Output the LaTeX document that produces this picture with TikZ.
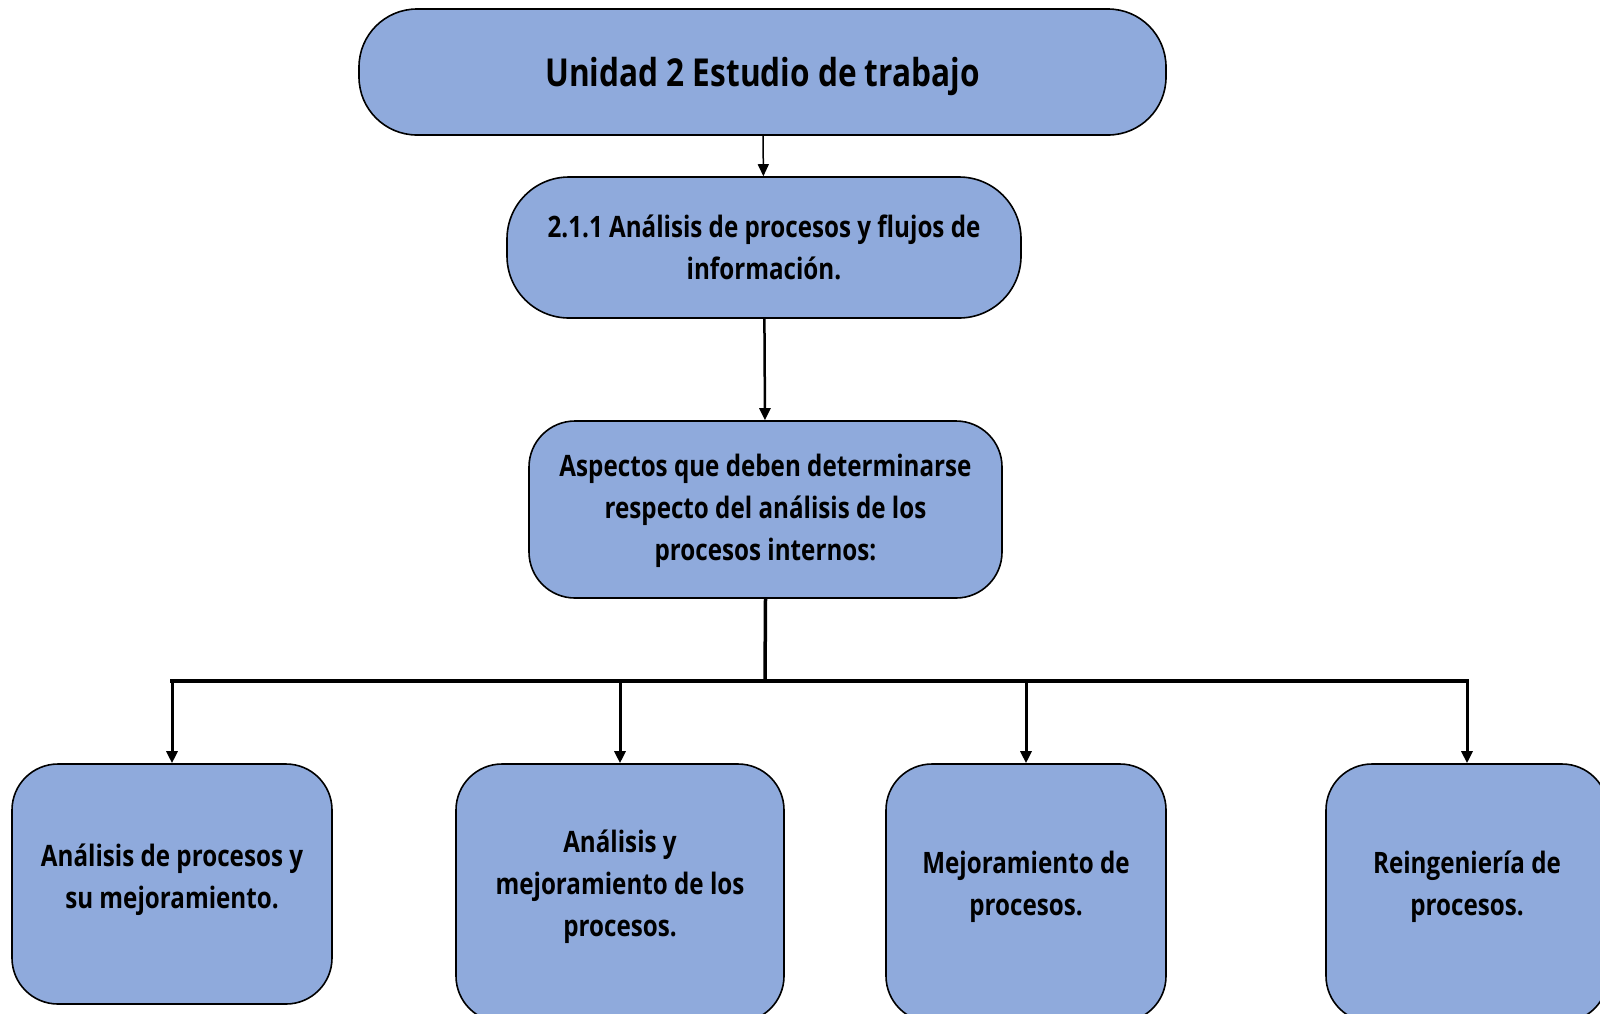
\documentclass[tikz,border=0pt]{standalone}
\usepackage{fontspec}
\setmainfont{Open Sans}[FakeStretch=0.82]
\usetikzlibrary{arrows.meta}
\definecolor{boxblue}{RGB}{143,170,220}
\tikzset{
  box/.style={draw=black, line width=1.6pt, fill=boxblue, inner sep=0pt},
  txt/.style={align=center, inner sep=0pt, font=\bfseries\fontsize{29.5}{42}\selectfont},
  conn/.style={draw=black, -{Triangle[length=12pt,width=11pt]}},
}
\begin{document}
\begin{tikzpicture}[x=1pt,y=-1pt]
\useasboundingbox (0,0) rectangle (1600,1013);
\clip (0,0) rectangle (1600,1013);
% boxes
\node[box, rounded corners=58pt, minimum width=807pt, minimum height=126pt] (top) at (762.5,72) {};
\node[box, rounded corners=62pt, minimum width=514pt, minimum height=141pt] (sec) at (764,247.5) {};
\node[box, rounded corners=46pt, minimum width=473pt, minimum height=177pt] (asp) at (765.5,509.5) {};
\node[box, rounded corners=46pt, minimum width=320pt, minimum height=240pt] (b1) at (172,884) {};
\node[box, rounded corners=46pt, minimum width=328pt, minimum height=258pt] (b2) at (620,893) {};
\node[box, rounded corners=46pt, minimum width=280pt, minimum height=258pt] (b3) at (1026,893) {};
\node[box, rounded corners=46pt, minimum width=282pt, minimum height=258pt] (b4) at (1467,893) {};
% texts
\node[txt, font=\bfseries\fontsize{38.5}{42}\selectfont] (topt) at ([yshift=-4pt]top.center) {Unidad 2 Estudio de trabajo};
\node[txt] (sect) at (sec.center) {2.1.1 Análisis de procesos y flujos de\\información.};
\node[txt] (aspt) at ([yshift=-1pt]asp.center) {Aspectos que deben determinarse\\respecto del análisis de los\\procesos internos:};
\node[txt] (b1t) at ([yshift=4pt]b1.center) {Análisis de procesos y\\su mejoramiento.};
\node[txt] (b2t) at ([yshift=6pt]b2.center) {Análisis y\\mejoramiento de los\\procesos.};
\node[txt] (b3t) at ([yshift=6pt]b3.center) {Mejoramiento de\\procesos.};
\node[txt] (b4t) at ([yshift=6pt]b4.center) {Reingeniería de\\procesos.};
% connectors
\coordinate (bar) at (765,681);
\draw[conn, line width=1.5pt] (top) -- (sec);
\draw[conn, line width=2.5pt] (sec) -- (asp);
\draw[line width=3.5pt] (asp.south) -- (bar);
\draw[line width=3.5pt] ([xshift=-1.75pt]b1.north |- bar) -- ([xshift=1.75pt]b4.north |- bar);
\foreach \n in {b1,b2,b3,b4}
  \draw[conn, line width=3pt] (\n.north |- bar) -- (\n.north);
\end{tikzpicture}
\end{document}
